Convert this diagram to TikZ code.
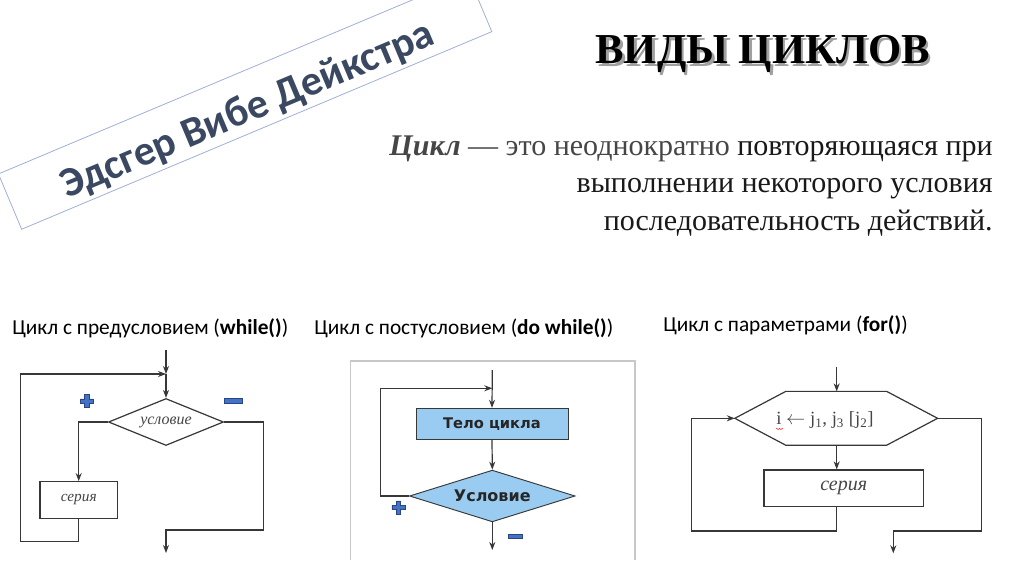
\documentclass[tikz,border=0pt]{standalone}
\usepackage{fontspec}
\setmainfont{Liberation Serif}
\setsansfont{Carlito}
\newfontfamily\djsans{DejaVu Sans}
\usetikzlibrary{arrows.meta,shapes.geometric,decorations.pathmorphing}
\definecolor{linec}{RGB}{55,55,55}
\definecolor{boxblue}{RGB}{153,204,240}
\definecolor{pmblue}{RGB}{68,114,196}
\definecolor{pmdark}{RGB}{40,70,130}
\definecolor{slate}{RGB}{58,72,98}
\definecolor{framec}{RGB}{200,200,200}
\definecolor{rotbox}{RGB}{160,176,212}
\definecolor{shadowc}{RGB}{160,160,160}
\definecolor{txtgrey}{RGB}{70,70,70}
\definecolor{txtdark}{RGB}{25,25,25}
\newcommand\shadowed[2]{\rlap{\kern#1\raisebox{-#1}{\textcolor{shadowc}{#2}}}#2}
\tikzset{
  arr/.style={draw=linec, line width=0.9pt, -{Stealth[length=6pt,width=4.5pt]}},
  ln/.style={draw=linec, line width=0.9pt},
  flowbox/.style={draw=linec, line width=0.9pt, inner sep=0pt},
  bluebox/.style={draw=linec, line width=0.7pt, fill=boxblue, inner sep=0pt},
  lbl/.style={font=\sffamily\fontsize{16}{19}\selectfont, anchor=base west, inner sep=0pt},
  deftext/.style={font=\fontsize{22.5}{27}\selectfont, anchor=base east, inner sep=0pt},
  pm/.style={fill=pmblue, draw=pmdark, line width=0.4pt},
  plusmark/.pic={\filldraw[pm] (-6.5,-2.2) -- (-2.2,-2.2) -- (-2.2,-6.5) -- (2.2,-6.5) -- (2.2,-2.2) -- (6.5,-2.2) -- (6.5,2.2) -- (2.2,2.2) -- (2.2,6.5) -- (-2.2,6.5) -- (-2.2,2.2) -- (-6.5,2.2) -- cycle;},
  minusmark/.pic={\filldraw[pm] (-9,-2.3) rectangle (9,2.3);},
}
\begin{document}
\begin{tikzpicture}[x=0.75pt,y=-0.75pt]
\useasboundingbox (0,0) rectangle (1024,574);
\fill[white] (0,0) rectangle (1024,574);

% rotated name box
\draw[draw=rotbox, line width=0.6pt, rotate around={22.8:(245.1,102.8)}] (-9.9,72.8) rectangle (500.1,132.8);
\node[rotate=22.8, text=slate, font=\sffamily\bfseries\fontsize{31.5}{36}\selectfont, inner sep=0pt] (name) at (248,111) {Эдсгер Вибе Дейкстра};

% title
\node[text=black, font=\bfseries\fontsize{32}{38}\selectfont, inner sep=0pt, anchor=base] (title) at (762.5,64) {\shadowed{2pt}{ВИДЫ ЦИКЛОВ}};

% definition
\node[deftext] (def1) at (993,156) {\textcolor{txtgrey}{\textbf{\textit{Цикл}} — это неоднократно} \textcolor{txtdark}{повторяющаяся при}};
\node[deftext, text=txtdark] (def2) at (993,193) {выполнении некоторого условия};
\node[deftext, text=txtdark] (def3) at (993,230) {последовательность действий.};

% section labels
\node[lbl] (lab1) at (12,334) {Цикл с предусловием (\textbf{while()})};
\node[lbl] (lab2) at (314,334) {Цикл с постусловием (\textbf{do while()})};
\node[lbl] (lab3) at (663,331) {Цикл с параметрами (\textbf{for()})};

% ---------- diagram 1: while ----------
\coordinate (w_in) at (166,350);
\coordinate (w_join) at (166,374);
\node[diamond, flowbox, aspect=2.4, minimum width=86.25pt, minimum height=35.25pt, font=\itshape\fontsize{12}{14}\selectfont, text=txtgrey] (w_cond) at (166,422) {условие};
\node[rectangle, flowbox, minimum width=58pt, minimum height=27.5pt, font=\itshape\fontsize{11.5}{13}\selectfont, text=txtgrey] (w_body) at (78.7,500) {серия};
\coordinate (w_lb) at (20.7,541.7);
\coordinate (w_rb) at (263.3,530);
\coordinate (w_out) at (166,553);
\draw[arr] (w_in) -- (w_join);
\draw[arr] (w_join) -- (w_cond.north);
\draw[arr] (w_cond.west) -| (w_body.north);
\draw[arr] (w_body.south) |- (w_lb) |- (w_join);
\draw[arr] (w_cond.east) -| (w_rb) -| (w_out);
\pic at (86.7,401) {plusmark};
\pic at (233,400.7) {minusmark};

% ---------- diagram 2: do while ----------
\draw[framec, line width=0.8pt] (350.7,560) |- (635,361) -- (635,560);
\coordinate (d_in) at (492.3,370);
\coordinate (d_join) at (492.3,388.3);
\coordinate (d_l) at (380.7,388.3);
\coordinate (d_out) at (492.3,550);
\node[rectangle, bluebox, minimum width=114pt, minimum height=23.25pt, font=\djsans\bfseries\fontsize{11}{13}\selectfont, text=black!85] (d_body) at (492,423.8) {Тело цикла};
\node[diamond, bluebox, aspect=3, minimum width=124.2pt, minimum height=38.8pt, font=\djsans\bfseries\fontsize{12}{14}\selectfont, text=black!85] (d_cond) at (492.3,496) {Условие};
\draw[arr] (d_in) -- (d_body.north);
\draw[arr] (d_body.south) -- (d_cond.north);
\draw[arr] (d_cond.west) -| (d_l) -- (d_join);
\draw[arr] (d_cond.south) -- (d_out);
\pic at (398.3,507.3) {plusmark};
\pic[scale=0.8] at (515,536) {minusmark};

% ---------- diagram 3: for ----------
\node[minimum width=151.7pt, minimum height=40pt, inner sep=0pt] (f_cond) at (836.2,418.3) {};
\draw[ln] (f_cond.west) -- ([xshift=38.25pt]f_cond.north west) -- ([xshift=-38.25pt]f_cond.north east) -- (f_cond.east) -- ([xshift=-38.25pt]f_cond.south east) -- ([xshift=38.25pt]f_cond.south west) -- cycle;
\node[font=\fontsize{14}{16}\selectfont, text=txtgrey, inner sep=0pt] (f_text) at (825,420) {i $\leftarrow$ j\textsubscript{1}, j\textsubscript{3} [j\textsubscript{2}]};
\draw[red!80, line width=0.4pt, decorate, decoration={snake, amplitude=0.5pt, segment length=2pt}] (776,429) -- (783,429);
\node[rectangle, flowbox, minimum width=119.5pt, minimum height=27.5pt, font=\itshape\fontsize{15}{17}\selectfont, text=txtgrey] (f_body) at (843.7,488.3) {серия};
\coordinate (f_in) at (836.7,366.7);
\coordinate (f_lb) at (691.7,531);
\coordinate (f_rb) at (981.7,531);
\coordinate (f_out) at (893.3,553.3);
\draw[arr] (f_in) -- (f_in |- f_cond.north);
\draw[arr] (f_in |- f_cond.south) -- (f_in |- f_body.north);
\draw[arr] (f_body.south -| f_in) |- (f_lb) |- (f_cond.west);
\draw[arr] (f_cond.east) -| (f_rb) -| (f_out);
\end{tikzpicture}
\end{document}
